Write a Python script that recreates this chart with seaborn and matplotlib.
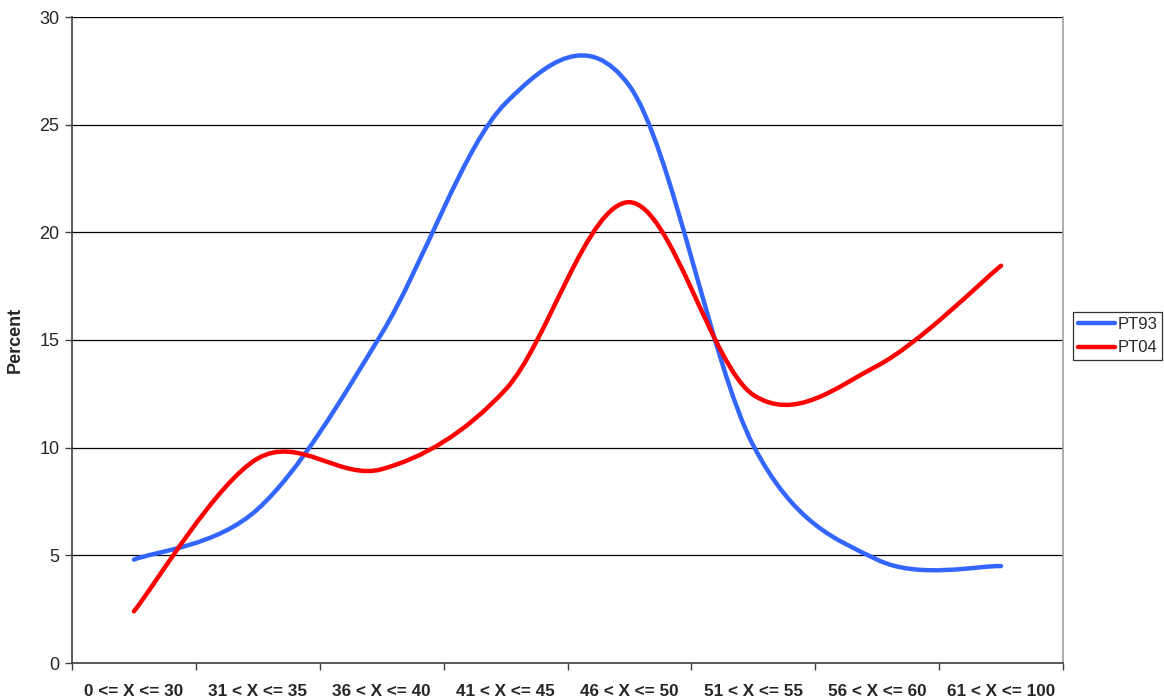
import matplotlib
matplotlib.use("Agg")
import matplotlib.pyplot as plt
from matplotlib.path import Path
from matplotlib.patches import PathPatch
from matplotlib.lines import Line2D
import numpy as np
import pandas as pd
import seaborn as sns

# categories and values
categories = ["0 <= X <= 30", "31 < X <= 35", "36 < X <= 40", "41 < X <= 45",
              "46 < X <= 50", "51 < X <= 55", "56 < X <= 60", "61 < X <= 100"]
pt93 = [4.8, 7.15, 15.3, 26.0, 26.8, 10.1, 4.8, 4.5]
pt04 = [2.4, 9.5, 9.0, 12.7, 21.4, 12.45, 13.8, 18.45]
series_names = ["PT93", "PT04"]
colors = {"PT93": "#3366FF", "PT04": "#FF0000"}

df = pd.DataFrame({"category": categories, "PT93": pt93, "PT04": pt04})

sns.set_style("white")
plt.rcParams["font.family"] = ["Liberation Sans", "DejaVu Sans"]

fig = plt.figure(figsize=(11.64, 7), dpi=100)
ax = fig.add_axes([72 / 1164, 1 - 663 / 700, (1063 - 72) / 1164, (663 - 17) / 700])


def smooth_path(xs, ys):
    # Excel style smoothed line: cubic bezier, control points at +/- 1/6 of neighbours
    pts = np.column_stack([xs, ys]).astype(float)
    n = len(pts)
    verts = [pts[0]]
    codes = [Path.MOVETO]
    for i in range(n - 1):
        p_prev = pts[i - 1] if i > 0 else pts[i]
        p_next2 = pts[i + 2] if i + 2 < n else pts[i + 1]
        c1 = pts[i] + (pts[i + 1] - p_prev) / 6
        c2 = pts[i + 1] - (p_next2 - pts[i]) / 6
        verts += [c1, c2, pts[i + 1]]
        codes += [Path.CURVE4] * 3
    return Path(verts, codes)


x = np.arange(len(categories)) + 0.5
for name in series_names:
    patch = PathPatch(smooth_path(x, df[name].values), fill=False,
                      edgecolor=colors[name], lw=3.2, capstyle="round",
                      joinstyle="round", zorder=3)
    ax.add_patch(patch)

ax.set_xlim(0, len(categories))
ax.set_ylim(0, 30)
ax.set_yticks(range(0, 31, 5))
ax.yaxis.grid(True, color="black", lw=0.9)
ax.set_axisbelow(True)

ax.set_xticks(range(0, len(categories) + 1))
ax.set_xticklabels([])
ax.set_xticks(x, minor=True)
ax.set_xticklabels(categories, minor=True, fontweight="bold", fontsize=12.3)
ax.tick_params(axis="x", which="minor", length=0, pad=15)
ax.tick_params(axis="x", which="major", length=5, width=1, color="#404040", direction="out")
ax.tick_params(axis="y", length=5, width=1, color="#404040", direction="out",
               labelsize=13, pad=4)
ax.tick_params(axis="both", bottom=True, left=True)

for side in ["left", "bottom"]:
    ax.spines[side].set_color("#404040")
    ax.spines[side].set_linewidth(1.2)
ax.spines["top"].set_visible(False)
ax.spines["right"].set_color("#a0a0a0")
ax.spines["right"].set_linewidth(1.2)

ax.set_ylabel("Percent", fontweight="bold", fontsize=13, labelpad=11)
ax.set_xlabel("")

# legend box on the right of the plot area
handles = [Line2D([0], [0], color=colors[n], lw=3.2, solid_capstyle="round") for n in series_names]
leg = fig.legend(handles, series_names, loc="upper left",
                 bbox_to_anchor=(1073 / 1164, 1 - 312 / 700),
                 frameon=True, fancybox=False, fontsize=12, handlelength=2.2,
                 handletextpad=0.15, borderpad=0.3, labelspacing=0.5, borderaxespad=0)
leg.get_frame().set_edgecolor("black")
leg.get_frame().set_linewidth(0.9)

fig.savefig("out.png", dpi=100)
